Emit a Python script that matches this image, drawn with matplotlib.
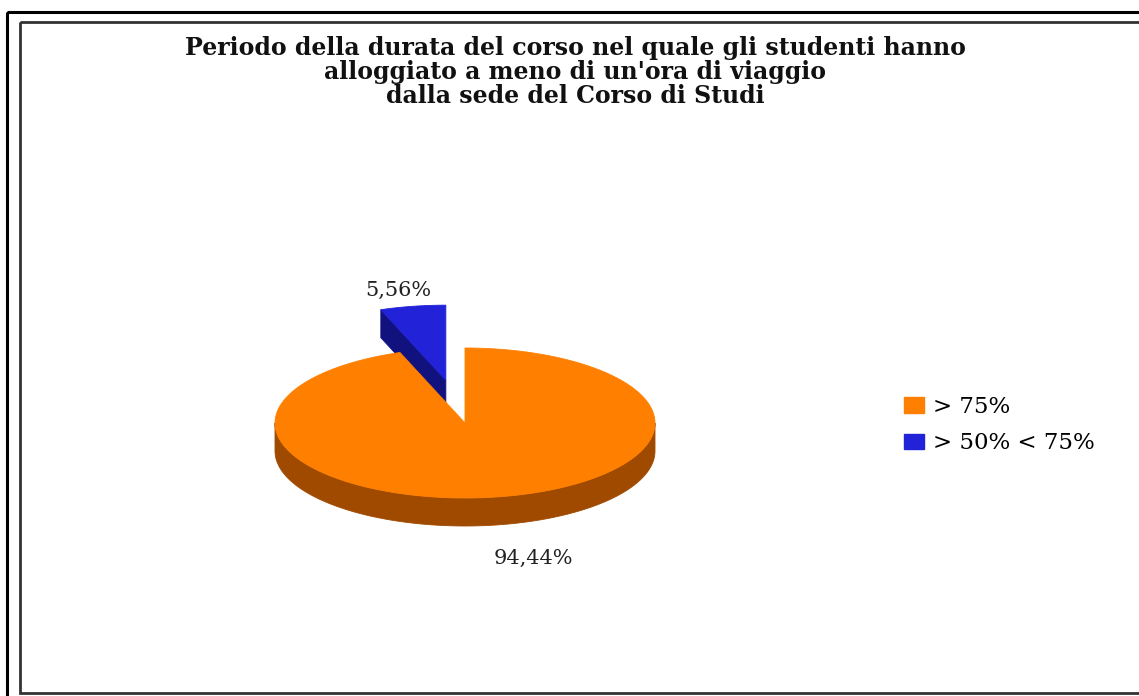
import numpy as np
import matplotlib
matplotlib.use("Agg")
from matplotlib import pyplot as plt
from matplotlib.patches import Polygon, Rectangle, Patch

# data
categories = ['> 75%', '> 50% < 75%']
shares = [94.44, 5.56]
labels = ['94,44%', '5,56%']
top_colors = ['#FF8000', '#2222D8']
side_colors = ['#A04A00', '#12127E']
explode = [0.0, 0.58]

title = ("Periodo della durata del corso nel quale gli studenti hanno\n"
         "alloggiato a meno di un'ora di viaggio\n"
         "dalla sede del Corso di Studi")

W, H = 1139, 696
fig = plt.figure(figsize=(W / 100, H / 100), dpi=100)
ax = fig.add_axes([0, 0, 1, 1])
ax.set_xlim(0, W)
ax.set_ylim(H, 0)
ax.axis('off')

# pseudo 3d pie geometry (pixel space)
cx, cy = 465, 423
rx, ry = 190, 75
depth = 28


def pt(theta, ox=0.0, oy=0.0, dz=0.0):
    t = np.radians(theta)
    return cx + ox + rx * np.cos(t), cy + oy - ry * np.sin(t) + dz


# slices go clockwise from 12 o'clock
fracs = np.array(shares) / sum(shares)
ends = 90 - 360 * np.cumsum(fracs)
starts = np.concatenate([[90], ends[:-1]])

slices = []
for i in range(len(shares)):
    a0, a1 = ends[i], starts[i]  # counterclockwise from a0 to a1
    mid = (a0 + a1) / 2
    ox = explode[i] * rx * np.cos(np.radians(mid))
    oy = -explode[i] * ry * np.sin(np.radians(mid))
    slices.append((a0, a1, mid, ox, oy))

# draw the exploded (back) slice first, then the big one
order = sorted(range(len(shares)), key=lambda i: slices[i][4])
for i in order:
    a0, a1, mid, ox, oy = slices[i]
    z = 2 + order.index(i) * 3
    apex = (cx + ox, cy + oy)
    # outer side, front half only
    s0, s1 = a0, a1
    if s0 < 0:
        s0 += 360
        s1 += 360
    f0, f1 = max(s0, 180), min(s1, 360)
    if f1 > f0:
        th = np.linspace(f0, f1, 120)
        top = [pt(t, ox, oy) for t in th]
        bot = [pt(t, ox, oy, depth) for t in th[::-1]]
        ax.add_patch(Polygon(top + bot, closed=True, fc=side_colors[i],
                             ec=side_colors[i], lw=0.6, zorder=z))
    if explode[i] > 0:
        # cut face on the left edge
        p = pt(a1, ox, oy)
        face = [apex, p, (p[0], p[1] + depth), (apex[0], apex[1] + depth)]
        ax.add_patch(Polygon(face, closed=True, fc=side_colors[i],
                             ec=side_colors[i], lw=0.6, zorder=z + 1))
    th = np.linspace(a0, a1, 200)
    poly = [apex] + [pt(t, ox, oy) for t in th]
    ax.add_patch(Polygon(poly, closed=True, fc=top_colors[i],
                         ec=top_colors[i], lw=0.6, zorder=z + 2))

# value labels
lab_pos = [(533, 558), (398, 290)]
for (lx, ly), txt in zip(lab_pos, labels):
    ax.text(lx, ly, txt, ha='center', va='center', fontsize=15,
            family='DejaVu Serif', color='#222222', zorder=20)

# title
ax.text(575, 72, title, ha='center', va='center', fontsize=17,
        family='DejaVu Serif', fontweight='bold', linespacing=0.98,
        color='#111111')

# legend
handles = [Patch(fc=c, ec=c) for c in top_colors]
leg = ax.legend(handles, categories, loc='upper left',
                bbox_to_anchor=(895 / W, 1 - 387 / H), frameon=False,
                prop={'family': 'DejaVu Serif', 'size': 16.5},
                handlelength=0.87, handleheight=0.65, handletextpad=0.4,
                labelspacing=0.62, borderaxespad=0)

# frames
ax.add_patch(Rectangle((7, 12), W + 20, H + 20, fill=False, ec='black',
                       lw=2.2, zorder=30, clip_on=False))
ax.add_patch(Rectangle((20, 22), W + 20, 671, fill=False, ec='#333333',
                       lw=2.0, zorder=30, clip_on=False))

fig.savefig('out.png', dpi=100)
